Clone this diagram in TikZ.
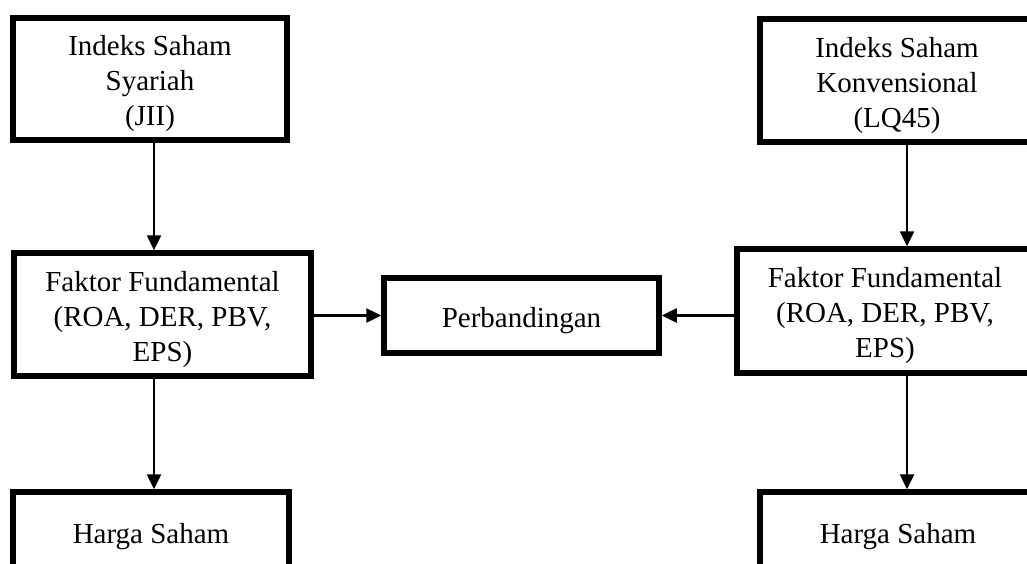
\documentclass[tikz,border=0pt]{standalone}
\usepackage{fontspec}
\setmainfont{Liberation Serif}
\usetikzlibrary{arrows.meta}
\newcommand{\dnstrut}{\rule{0pt}{30pt}}
\begin{document}
\begin{tikzpicture}[x=1pt,y=-1pt,
  box/.style={draw=black,line width=5.5pt,rectangle,inner sep=0pt,align=center,
    font=\fontsize{29}{35}\selectfont},
  arr/.style={draw=black,line width=2.5pt,-{Triangle[length=15pt,width=14pt]}}]
\path[use as bounding box] (0,0) rectangle (1027,563);
\clip (0,0) rectangle (1027,563);
\fill[white] (0,0) rectangle (1027,563);
% left column
\node[box,minimum width=274pt,minimum height=122pt] (tl) at (150,79) {\dnstrut Indeks Saham\\Syariah\\(JII)};
\node[box,minimum width=297pt,minimum height=123pt] (ml) at (162.5,314.5) {\dnstrut Faktor Fundamental\\(ROA, DER, PBV,\\EPS)};
\node[box,minimum width=276pt,minimum height=80pt] (bl) at (151,532) {\dnstrut Harga Saham};
% middle
\node[box,minimum width=275pt,minimum height=75pt] (pb) at (521.5,315.5) {\dnstrut Perbandingan};
% right column
\node[box,minimum width=274pt,minimum height=123pt] (tr) at (897,80.5) {\dnstrut Indeks Saham\\Konvensional\\(LQ45)};
\node[box,minimum width=296pt,minimum height=124pt] (mr) at (885,311) {\dnstrut Faktor Fundamental\\(ROA, DER, PBV,\\EPS)};
\node[box,minimum width=276pt,minimum height=80pt] (br) at (898,532) {\dnstrut Harga Saham};
% connector columns
\coordinate (cl) at (154,0);
\coordinate (cr) at (907,0);
\draw[arr] (cl |- tl.south) -- (cl |- ml.north);
\draw[arr] (cl |- ml.south) -- (cl |- bl.north);
\draw[arr] (cr |- tr.south) -- (cr |- mr.north);
\draw[arr] (cr |- mr.south) -- (cr |- br.north);
\draw[arr] (pb.west -| ml.east) -- (pb.west);
\draw[arr] (pb.east -| mr.west) -- (pb.east);
\end{tikzpicture}
\end{document}
